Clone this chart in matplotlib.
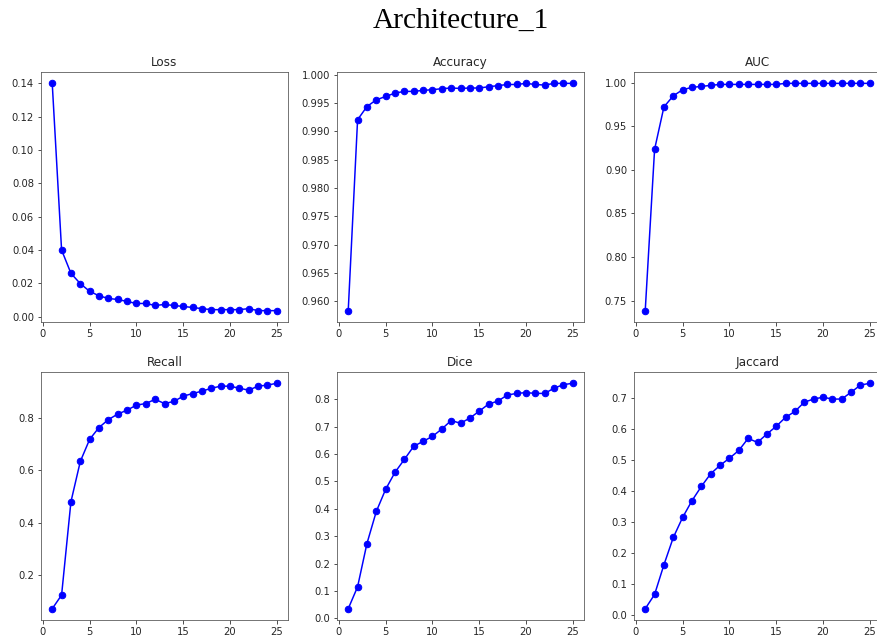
import matplotlib
matplotlib.use("Agg")
import matplotlib.pyplot as plt

epochs = list(range(1, 26))

loss = [0.140, 0.040, 0.026, 0.0198, 0.0152, 0.0125, 0.0109, 0.0103, 0.0091, 0.0079,
        0.0079, 0.0067, 0.0073, 0.0067, 0.0061, 0.0055, 0.0048, 0.0042, 0.0042, 0.0042,
        0.0042, 0.0048, 0.0036, 0.0036, 0.0036]
accuracy = [0.95833, 0.99207, 0.9944, 0.99559, 0.99618, 0.99678, 0.99708, 0.99708, 0.99726, 0.99738,
            0.99756, 0.99768, 0.9976, 0.99768, 0.99768, 0.9979, 0.9981, 0.9983, 0.9983, 0.9985,
            0.9983, 0.9982, 0.9985, 0.9985, 0.9985]
auc = [0.7384, 0.9235, 0.9722, 0.9849, 0.9919, 0.9946, 0.9957, 0.9969, 0.9980, 0.9980,
       0.9980, 0.9980, 0.9980, 0.9980, 0.9980, 0.9992, 0.9992, 0.9992, 0.9992, 0.9992,
       0.9992, 0.9992, 0.9992, 0.9992, 0.9992]
recall = [0.0737, 0.1255, 0.480, 0.633, 0.717, 0.762, 0.792, 0.813, 0.828, 0.847,
          0.853, 0.869, 0.853, 0.861, 0.881, 0.891, 0.900, 0.911, 0.919, 0.919,
          0.911, 0.904, 0.919, 0.923, 0.930]
dice = [0.035, 0.115, 0.273, 0.390, 0.471, 0.533, 0.580, 0.628, 0.646, 0.664,
        0.691, 0.722, 0.712, 0.731, 0.756, 0.782, 0.793, 0.815, 0.821, 0.824,
        0.821, 0.821, 0.840, 0.853, 0.858]
jaccard = [0.020, 0.066, 0.162, 0.250, 0.315, 0.369, 0.415, 0.456, 0.483, 0.506,
           0.531, 0.570, 0.557, 0.584, 0.609, 0.638, 0.657, 0.687, 0.697, 0.703,
           0.697, 0.697, 0.719, 0.742, 0.748]

titles = ["Loss", "Accuracy", "AUC", "Recall", "Dice", "Jaccard"]
series = [loss, accuracy, auc, recall, dice, jaccard]
yticks = [
    [0.00, 0.02, 0.04, 0.06, 0.08, 0.10, 0.12, 0.14],
    [0.960, 0.965, 0.970, 0.975, 0.980, 0.985, 0.990, 0.995, 1.000],
    [0.75, 0.80, 0.85, 0.90, 0.95, 1.00],
    [0.2, 0.4, 0.6, 0.8],
    [0.0, 0.1, 0.2, 0.3, 0.4, 0.5, 0.6, 0.7, 0.8],
    [0.0, 0.1, 0.2, 0.3, 0.4, 0.5, 0.6, 0.7],
]
yfmt = ["{:.2f}", "{:.3f}", "{:.2f}", "{:.1f}", "{:.1f}", "{:.1f}"]

W, H = 877, 639
dpi = 72
fig = plt.figure(figsize=(W / dpi, H / dpi), dpi=dpi)

lefts = [41, 337, 634]
width = 247
rows = [(72, 322), (372, 620)]

for i, (t, s) in enumerate(zip(titles, series)):
    r, c = divmod(i, 3)
    top, bot = rows[r]
    ax = fig.add_axes([lefts[c] / W, 1 - bot / H, width / W, (bot - top) / H])
    ax.plot(epochs, s, color="blue", marker="o", markersize=6.5, linewidth=1.5)
    ax.set_title(t, fontsize=12, color="#262626")
    ax.set_xticks([0, 5, 10, 15, 20, 25])
    ax.set_yticks(yticks[i])
    ax.set_yticklabels([yfmt[i].format(v) for v in yticks[i]])
    ax.tick_params(labelsize=10, colors="#262626")
    for sp in ax.spines.values():
        sp.set_color("#555555")

fig.suptitle("Architecture_1", fontsize=29.5, family="Liberation Serif",
             x=461 / W, y=1 - 21 / H, va="center")

fig.savefig("out.png", dpi=dpi)
